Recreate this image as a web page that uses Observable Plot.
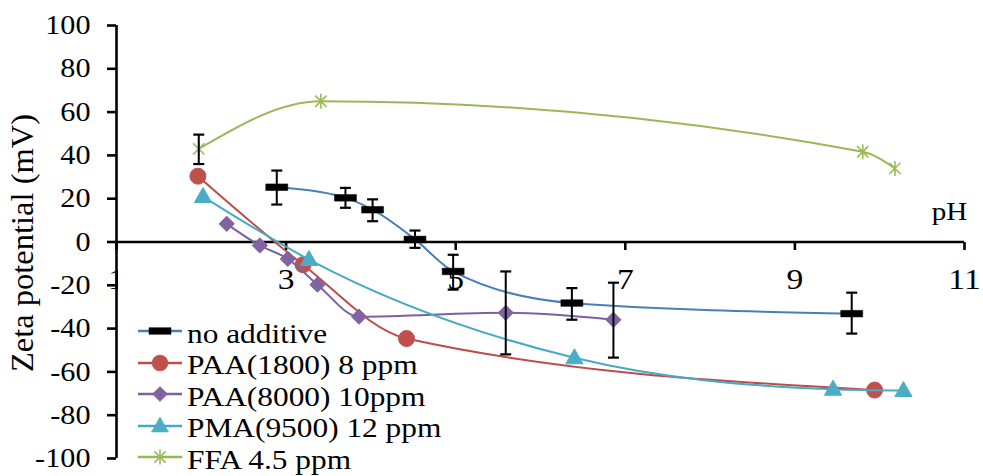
<!DOCTYPE html>
<html><head><meta charset="utf-8">
<script src="https://cdn.jsdelivr.net/npm/d3@7"></script>
<script src="https://cdn.jsdelivr.net/npm/@observablehq/plot@0.6"></script>
<style>
body{margin:0;background:#fff;}
#wrap{position:relative;width:983px;height:476px;overflow:hidden;font-family:"Liberation Serif","Times New Roman",serif;background:#fff;}
#wrap svg{display:block;}
.cover{position:absolute;left:118px;top:262px;width:70px;height:214px;background:#fff;}
.row{position:absolute;left:0;height:30px;}
.row svg{position:absolute;left:136px;}
.row span{position:absolute;left:187px;white-space:nowrap;font-size:28px;line-height:30px;transform:scaleX(1.12);transform-origin:left center;color:#000;}
</style></head><body><div id="wrap"></div>
<script>
const xTickValues = [1, 3, 5, 7, 9, 11];
const yTickValues = [-100, -80, -60, -40, -20, 0, 20, 40, 60, 80, 100];
const xAxisTitle = "pH";
const yAxisTitle = "Zeta potential (mV)";

const seriesNames = ["no additive", "PAA(1800) 8 ppm", "PAA(8000) 10ppm", "PMA(9500) 12 ppm", "FFA 4.5 ppm"];
const lineColors = ["#4A7EBB", "#BE4B48", "#7D60A0", "#46AAC5", "#98B954"];
const markerColors = ["#000000", "#C0504D", "#8064A2", "#4BACC6", "#9BBB59"];

const noAdditivePH = [2.89, 3.70, 4.02, 4.52, 4.97, 6.37, 9.67];
const noAdditiveMV = [25.3, 20.4, 14.9, 1.2, -13.6, -28.2, -33.1];
const noAdditiveLow = [17.3, 15.8, 9.6, -2.7, -22.0, -35.9, -42.3];
const noAdditiveHigh = [33.0, 25.0, 19.7, 5.3, -5.9, -21.3, -23.4];

const paa1800PH = [1.96, 3.20, 4.42, 9.94];
const paa1800MV = [30.4, -10.5, -44.6, -68.4];

const paa8000PH = [2.30, 2.69, 3.02, 3.37, 3.86, 5.59, 6.86];
const paa8000MV = [8.4, -1.6, -7.8, -19.7, -34.5, -32.7, -35.9];
const paa8000Low = [null, null, null, null, null, -51.9, -53.4];
const paa8000High = [null, null, null, null, null, -13.6, -18.8];

const pmaPH = [2.02, 3.27, 6.40, 9.45, 10.28];
const pmaMV = [21.0, -8.1, -53.5, -68.0, -68.6];

const ffaPH = [1.97, 3.41, 9.80, 10.18];
const ffaMV = [43.0, 65.0, 41.7, 34.0];
const ffaLow = [36.0, null, null, null];
const ffaHigh = [49.6, null, null, null];

// ---- tables built from the arrays ----
const pts = (xs, ys) => xs.map((x, i) => ({x, y: ys[i]}));
const errs = (xs, lo, hi) => xs.map((x, i) => ({x, lo: lo[i], hi: hi[i]})).filter(d => d.lo != null);
const noAdd = pts(noAdditivePH, noAdditiveMV);
const paa1800 = pts(paa1800PH, paa1800MV);
const paa8000 = pts(paa8000PH, paa8000MV);
const pma = pts(pmaPH, pmaMV);
const ffa = pts(ffaPH, ffaMV);
const errAll = [
  ...errs(noAdditivePH, noAdditiveLow, noAdditiveHigh),
  ...errs(paa8000PH, paa8000Low, paa8000High),
  ...errs(ffaPH, ffaLow, ffaHigh)
];
const capAll = errAll.flatMap(d => [{x: d.x, y: d.lo}, {x: d.x, y: d.hi}]);

// ---- marker shapes ----
const dashSym = {draw(c) { c.rect(-11, -3.3, 22, 6.6); }};
const capSym = {draw(c) { c.moveTo(-5.5, 0); c.lineTo(5.5, 0); }};
const tickDown = {draw(c) { c.moveTo(0, 0); c.lineTo(0, 8); }};
const starSym = {draw(c) { const r = 7.5, d = 5.6; c.moveTo(0, -r); c.lineTo(0, r); c.moveTo(-d, -d); c.lineTo(d, d); c.moveTo(-d, d); c.lineTo(d, -d); }};
const triSym = {draw(c) { c.moveTo(0, -9); c.lineTo(8.6, 6); c.lineTo(-8.6, 6); c.closePath(); }};
const diaSym = {draw(c) { const r = 7.6; c.moveTo(0, -r); c.lineTo(r, 0); c.lineTo(0, r); c.lineTo(-r, 0); c.closePath(); }};
const circSym = {draw(c) { c.moveTo(8, 0); c.arc(0, 0, 8, 0, 2 * Math.PI); }};

const curve = "monotone-x";

const chart = Plot.plot({
  width: 983,
  height: 476,
  marginLeft: 116,
  marginRight: 19,
  marginTop: 25,
  marginBottom: 18,
  style: {fontFamily: "Liberation Serif, Times New Roman, serif", background: "white", color: "black"},
  x: {domain: [1, 11], axis: null},
  y: {domain: [-100, 100], axis: null},
  marks: [
    Plot.ruleY([0], {x1: 1, x2: 11, stroke: "black", strokeWidth: 2.6}),
    Plot.ruleX([1], {y1: -100, y2: 100, stroke: "black", strokeWidth: 2.6}),
    Plot.axisY({ticks: yTickValues, tickSize: 9, tickPadding: 17, strokeWidth: 2.6, fontSize: 27, tickFormat: d => String(d), label: null}),
    Plot.dot(xTickValues, {x: d => d, y: 0, symbol: tickDown, stroke: "black", fill: "none", strokeWidth: 2.6}),
    Plot.text(xTickValues, {x: d => d, y: 0, text: d => String(d), dy: 37, fontSize: 30}),
    Plot.text([xAxisTitle], {x: 11, y: 0, text: d => d, dx: -15, dy: -30, fontSize: 26}),
    Plot.text([yAxisTitle], {frameAnchor: "left", text: d => d, rotate: -90, textAnchor: "middle", dx: -94, dy: 1, fontSize: 32.5}),
    // no additive
    Plot.line(noAdd, {x: "x", y: "y", stroke: lineColors[0], strokeWidth: 2, curve}),
    // PAA 1800
    Plot.line(paa1800, {x: "x", y: "y", stroke: lineColors[1], strokeWidth: 2, curve}),
    Plot.dot(paa1800, {x: "x", y: "y", symbol: circSym, fill: markerColors[1], stroke: markerColors[1], strokeWidth: 1}),
    // PAA 8000
    Plot.line(paa8000, {x: "x", y: "y", stroke: lineColors[2], strokeWidth: 2, curve}),
    Plot.dot(paa8000, {x: "x", y: "y", symbol: diaSym, fill: markerColors[2], stroke: markerColors[2], strokeWidth: 1}),
    // PMA
    Plot.line(pma, {x: "x", y: "y", stroke: lineColors[3], strokeWidth: 2, curve}),
    Plot.dot(pma, {x: "x", y: "y", symbol: triSym, fill: markerColors[3], stroke: markerColors[3], strokeWidth: 1}),
    // FFA
    Plot.line(ffa, {x: "x", y: "y", stroke: lineColors[4], strokeWidth: 2, curve}),
    Plot.dot(ffa, {x: "x", y: "y", symbol: starSym, fill: "none", stroke: markerColors[4], strokeWidth: 1.6}),
    // error bars
    Plot.ruleX(errAll, {x: "x", y1: "lo", y2: "hi", stroke: "black", strokeWidth: 2}),
    Plot.dot(capAll, {x: "x", y: "y", symbol: capSym, fill: "none", stroke: "black", strokeWidth: 2.2}),
    Plot.dot(noAdd, {x: "x", y: "y", symbol: dashSym, fill: "black", stroke: "black", strokeWidth: 0.5})
  ]
});

// horizontal stretch of non-rotated text, like the reference
chart.querySelectorAll("text").forEach(t => {
  const tr = t.getAttribute("transform") || "";
  if (tr.includes("rotate")) return;
  const x = +(t.getAttribute("x") || 0);
  if (x) { t.setAttribute("x", 0); t.setAttribute("transform", `${tr} translate(${x},0) scale(1.12,1)`); }
  else t.setAttribute("transform", `${tr} scale(1.12,1)`);
});

const wrap = document.getElementById("wrap");
wrap.appendChild(chart);

// legend (HTML, overlaid at the lower left of the plot)
const cover = document.createElement("div");
cover.className = "cover";
wrap.appendChild(cover);
const legendSymbols = [dashSym, circSym, diaSym, triSym, starSym];
seriesNames.forEach((name, i) => {
  const cy = 331 + i * 31.6;
  const row = document.createElement("div");
  row.className = "row";
  row.style.top = (cy - 12) + "px";
  const s = d3.create("svg").attr("width", 48).attr("height", 24);
  s.append("line").attr("x1", 2).attr("x2", 46).attr("y1", 12).attr("y2", 12)
    .attr("stroke", lineColors[i]).attr("stroke-width", 2.6);
  const isStar = i === 4;
  s.append("path").attr("transform", "translate(24,12)")
    .attr("d", d3.symbol(legendSymbols[i], 64)())
    .attr("fill", isStar ? "none" : markerColors[i])
    .attr("stroke", markerColors[i]).attr("stroke-width", isStar ? 1.6 : 0.5);
  s.style("top", "0px");
  row.appendChild(s.node());
  const span = document.createElement("span");
  span.textContent = name;
  span.style.top = "-0.5px";
  row.appendChild(span);
  wrap.appendChild(row);
});
</script>
</body></html>
